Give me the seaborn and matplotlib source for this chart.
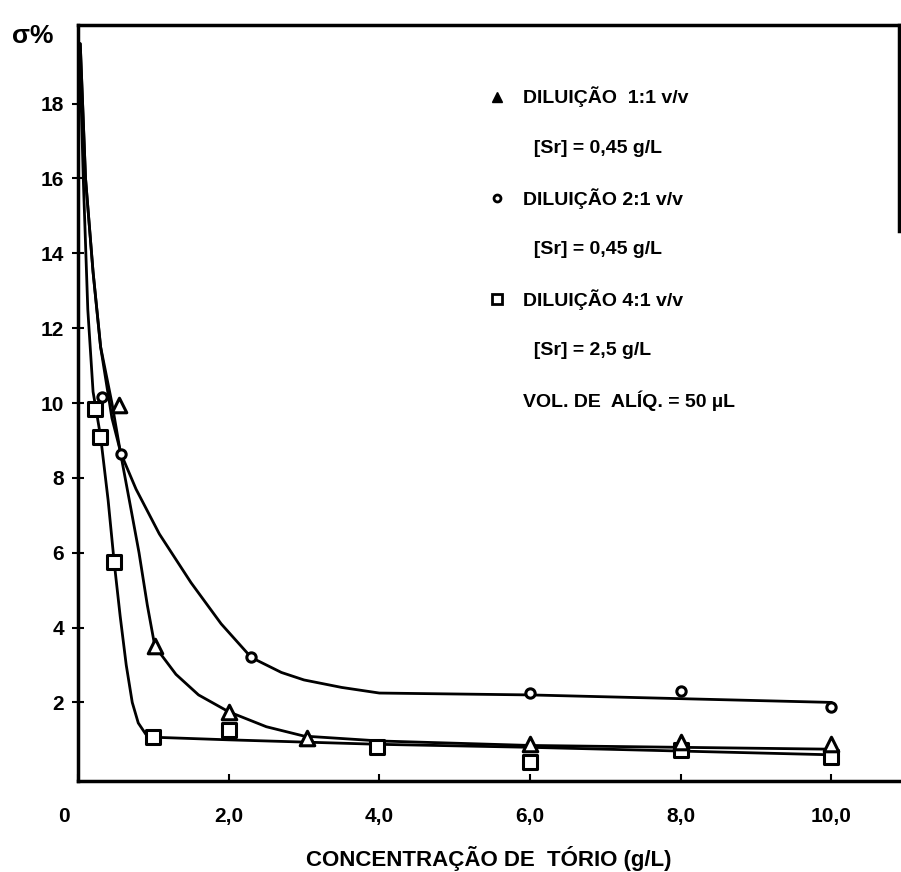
import matplotlib
matplotlib.use("Agg")
import matplotlib.pyplot as plt
import matplotlib.transforms as mtransforms
from matplotlib.lines import Line2D
import seaborn as sns

# ---- measured points ----
tri_x = [0.54, 1.02, 2.0, 3.04, 6.0, 8.0, 10.0]
tri_y = [9.95, 3.5, 1.75, 1.05, 0.88, 0.95, 0.9]
circ_x = [0.32, 0.57, 2.3, 6.0, 8.0, 10.0]
circ_y = [10.15, 8.65, 3.2, 2.25, 2.3, 1.87]
sq_x = [0.22, 0.29, 0.48, 1.0, 2.0, 3.97, 6.0, 8.0, 10.0]
sq_y = [9.85, 9.1, 5.75, 1.07, 1.25, 0.8, 0.4, 0.72, 0.55]

# ---- hand-drawn fitted curves ----
sq_curve_x = [0.02, 0.07, 0.13, 0.2, 0.3, 0.4, 0.48, 0.56, 0.64, 0.72, 0.8, 0.9, 1.0, 2.0, 4.0, 6.0, 8.0, 10.0]
sq_curve_y = [19.6, 16.0, 12.5, 10.3, 9.1, 7.4, 5.75, 4.3, 3.0, 2.0, 1.45, 1.15, 1.07, 1.0, 0.88, 0.8, 0.7, 0.6]
tri_curve_x = [0.03, 0.1, 0.2, 0.3, 0.45, 0.57, 0.7, 0.81, 0.92, 1.02, 1.3, 1.6, 2.0, 2.5, 3.0, 4.0, 6.0, 8.0, 10.0]
tri_curve_y = [19.6, 16.0, 13.5, 11.5, 10.0, 8.6, 7.2, 6.0, 4.6, 3.5, 2.75, 2.2, 1.75, 1.35, 1.1, 0.97, 0.85, 0.8, 0.75]
circ_curve_x = [0.03, 0.1, 0.2, 0.3, 0.45, 0.57, 0.77, 1.08, 1.5, 1.9, 2.3, 2.7, 3.0, 3.5, 4.0, 6.0, 8.0, 10.0]
circ_curve_y = [19.6, 16.0, 13.5, 11.5, 9.6, 8.65, 7.7, 6.5, 5.2, 4.1, 3.2, 2.8, 2.6, 2.4, 2.25, 2.2, 2.1, 2.0]

xticks = [0, 2, 4, 6, 8, 10]
xtick_labels = ["0", "2,0", "4,0", "6,0", "8,0", "10,0"]
yticks = [2, 4, 6, 8, 10, 12, 14, 16, 18]
ytick_labels = ["2", "4", "6", "8", "10", "12", "14", "16", "18"]

legend_labels = ["DILUIÇÃO  1:1 v/v", "  [Sr] = 0,45 g/L", "DILUIÇÃO 2:1 v/v",
                 "  [Sr] = 0,45 g/L", "DILUIÇÃO 4:1 v/v", "  [Sr] = 2,5 g/L",
                 "VOL. DE  ALÍQ. = 50 µL"]

sns.set_theme(style="ticks")
plt.rcParams['font.family'] = ['Liberation Sans', 'DejaVu Sans']
plt.rcParams['font.weight'] = 'bold'
for k in ['text.color', 'axes.labelcolor', 'xtick.color', 'ytick.color', 'axes.edgecolor']:
    plt.rcParams[k] = 'black'

fig = plt.figure(figsize=(9.01, 8.72), dpi=100)
ax = fig.add_axes([78/901, 1 - 781/872, 1 - 78/901 - 0.002, (781 - 25)/872])

for cx, cy in [(sq_curve_x, sq_curve_y), (tri_curve_x, tri_curve_y), (circ_curve_x, circ_curve_y)]:
    sns.lineplot(x=cx, y=cy, ax=ax, color="black", lw=2.0, sort=False, estimator=None)

sns.scatterplot(x=sq_x, y=sq_y, ax=ax, marker="s", s=110, facecolor="white",
                edgecolor="black", linewidth=2.2, zorder=5)
sns.scatterplot(x=tri_x, y=tri_y, ax=ax, marker="^", s=110, facecolor="white",
                edgecolor="black", linewidth=2.2, zorder=5)
sns.scatterplot(x=circ_x, y=circ_y, ax=ax, marker="o", s=45, facecolor="white",
                edgecolor="black", linewidth=2.2, zorder=5)

ax.set_xlim(0, 10.9)
ax.set_ylim(-0.1, 20.1)
ax.set_xticks(xticks)
ax.set_xticklabels(xtick_labels, fontsize=15, fontweight='bold')
ax.set_yticks(yticks)
ax.set_yticklabels(ytick_labels, fontsize=15, fontweight='bold')
ax.tick_params(axis='x', direction='in', length=5, width=1.5, pad=19, colors='black')
ax.tick_params(axis='y', direction='inout', length=8, width=1.5, pad=6, colors='black')

# shift the "0" label slightly left as in the original
lbl0 = ax.get_xticklabels()[0]
lbl0.set_transform(lbl0.get_transform() + mtransforms.ScaledTranslation(-14/100, 0, fig.dpi_scale_trans))

for side in ['left', 'bottom', 'top', 'right']:
    ax.spines[side].set_linewidth(2.5)
    ax.spines[side].set_color('black')
ax.spines['right'].set_bounds(14.6, 20.1)

ax.set_xlabel("CONCENTRAÇÃO DE  TÓRIO (g/L)", fontsize=16, fontweight='bold', labelpad=14)
ax.set_ylabel("")
fig.text(12/901, 1 - 36/872, "σ%", fontsize=19, fontweight='bold', va='center', ha='left')

blank = Line2D([], [], linestyle='none', marker=None)
handles = [
    Line2D([], [], linestyle='none', marker='^', markersize=7, color='black'),
    blank,
    Line2D([], [], linestyle='none', marker='o', markersize=5, markerfacecolor='white',
           markeredgecolor='black', markeredgewidth=2),
    blank,
    Line2D([], [], linestyle='none', marker='s', markersize=7, markerfacecolor='white',
           markeredgecolor='black', markeredgewidth=2),
    blank,
    blank,
]
leg = fig.legend(handles, legend_labels, loc='upper left', bbox_to_anchor=(478/901, 1 - 77/872),
                 frameon=False, prop={'size': 14, 'weight': 'bold'}, handlelength=1.0,
                 handletextpad=0.8, labelspacing=1.62, borderpad=0)

fig.savefig("out.png", dpi=100)
